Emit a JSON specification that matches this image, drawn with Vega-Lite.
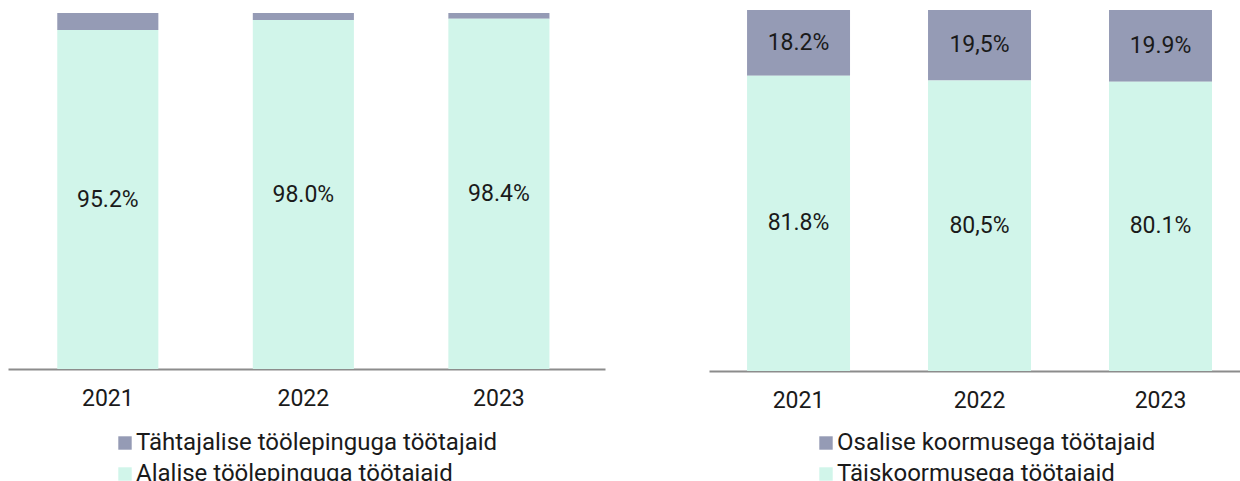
{
  "$schema": "https://vega.github.io/schema/vega-lite/v6.json",
  "background": "white",
  "padding": {"left": 8, "top": 4, "right": 0, "bottom": 0},
  "spacing": 104,
  "config": {
    "font": "Roboto",
    "view": {"stroke": null},
    "axis": {"grid": false}
  },
  "datasets": {
    "left": [
      {"year": "2021", "cat": "Tähtajalise töölepinguga töötajaid", "value": 4.8, "label": ""},
      {"year": "2021", "cat": "Alalise töölepinguga töötajaid", "value": 95.2, "label": "95.2%"},
      {"year": "2022", "cat": "Tähtajalise töölepinguga töötajaid", "value": 2.0, "label": ""},
      {"year": "2022", "cat": "Alalise töölepinguga töötajaid", "value": 98.0, "label": "98.0%"},
      {"year": "2023", "cat": "Tähtajalise töölepinguga töötajaid", "value": 1.6, "label": ""},
      {"year": "2023", "cat": "Alalise töölepinguga töötajaid", "value": 98.4, "label": "98.4%"}
    ],
    "right": [
      {"year": "2021", "cat": "Osalise koormusega töötajaid", "value": 18.2, "label": "18.2%"},
      {"year": "2021", "cat": "Täiskoormusega töötajaid", "value": 81.8, "label": "81.8%"},
      {"year": "2022", "cat": "Osalise koormusega töötajaid", "value": 19.5, "label": "19,5%"},
      {"year": "2022", "cat": "Täiskoormusega töötajaid", "value": 80.5, "label": "80,5%"},
      {"year": "2023", "cat": "Osalise koormusega töötajaid", "value": 19.9, "label": "19.9%"},
      {"year": "2023", "cat": "Täiskoormusega töötajaid", "value": 80.1, "label": "80.1%"}
    ]
  },
  "hconcat": [
    {
      "width": 597,
      "height": 359,
      "data": {"name": "left"},
      "encoding": {
        "x": {
          "field": "year", "type": "nominal",
          "scale": {"paddingInner": 0.483, "paddingOuter": 0.268, "align": 0.47},
          "axis": {"title": null, "labelAngle": 0, "ticks": false, "domainColor": "#8c8c8c", "domainWidth": 2, "labelFontSize": 23, "labelColor": "#1a1a1a", "labelPadding": 18}
        },
        "y": {"field": "value", "type": "quantitative", "stack": "zero", "scale": {"domain": [0, 100.84], "nice": false}, "axis": null},
        "order": {"field": "cat", "sort": "ascending"}
      },
      "layer": [
        {
          "mark": {"type": "bar"},
          "encoding": {
            "color": {
              "field": "cat", "type": "nominal",
              "scale": {"domain": ["Tähtajalise töölepinguga töötajaid", "Alalise töölepinguga töötajaid"], "range": ["#959bb5", "#d1f5ea"]},
              "legend": {"title": null, "orient": "none", "legendX": 105, "legendY": 421, "symbolType": "square", "symbolSize": 180, "symbolStrokeWidth": 0, "labelFontSize": 24, "labelColor": "#1a1a1a", "labelFont": "Roboto", "rowPadding": 7, "labelOffset": -1, "padding": 0, "labelLimit": 600}
            }
          }
        },
        {
          "mark": {"type": "text", "fontSize": 23, "color": "#1a1a1a"},
          "encoding": {
            "y": {"field": "value", "type": "quantitative", "stack": "zero", "bandPosition": 0.5},
            "detail": {"field": "cat"},
            "text": {"field": "label"}
          }
        }
      ]
    },
    {
      "width": 531,
      "height": 361,
      "data": {"name": "right"},
      "encoding": {
        "x": {
          "field": "year", "type": "nominal",
          "scale": {"paddingInner": 0.431, "paddingOuter": 0.1825, "align": 0.576},
          "axis": {"title": null, "labelAngle": 0, "ticks": false, "domainColor": "#8c8c8c", "domainWidth": 2, "labelFontSize": 23, "labelColor": "#1a1a1a", "labelPadding": 18}
        },
        "y": {"field": "value", "type": "quantitative", "stack": "zero", "scale": {"domain": [0, 100], "nice": false}, "axis": null},
        "order": {"field": "cat", "sort": "descending"}
      },
      "layer": [
        {
          "mark": {"type": "bar"},
          "encoding": {
            "color": {
              "field": "cat", "type": "nominal",
              "scale": {"domain": ["Osalise koormusega töötajaid", "Täiskoormusega töötajaid"], "range": ["#959bb5", "#d1f5ea"]},
              "legend": {"title": null, "orient": "none", "legendX": 105, "legendY": 421, "symbolType": "square", "symbolSize": 180, "symbolStrokeWidth": 0, "labelFontSize": 24, "labelColor": "#1a1a1a", "labelFont": "Roboto", "rowPadding": 7, "labelOffset": -1, "padding": 0, "labelLimit": 600}
            }
          }
        },
        {
          "mark": {"type": "text", "fontSize": 23, "color": "#1a1a1a"},
          "encoding": {
            "y": {"field": "value", "type": "quantitative", "stack": "zero", "bandPosition": 0.5},
            "detail": {"field": "cat"},
            "text": {"field": "label"}
          }
        }
      ]
    }
  ],
  "resolve": {"scale": {"color": "independent"}, "legend": {"color": "independent"}}
}
